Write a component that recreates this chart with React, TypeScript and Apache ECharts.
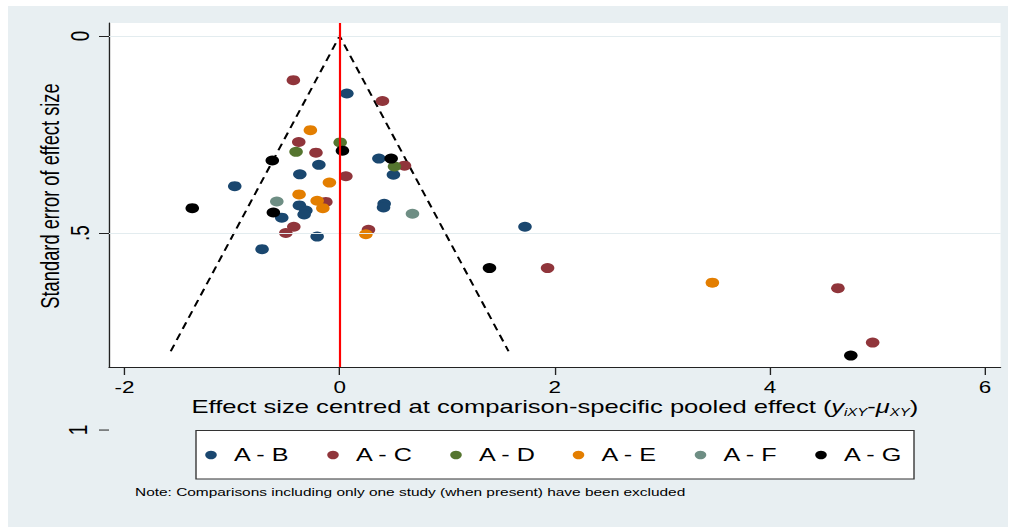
import { useEffect, useRef } from "react";
import * as echarts from "echarts";

// ---- data ----
const comparisons = ["A - B", "A - C", "A - D", "A - E", "A - F", "A - G"];
const colors = ["#1a476f", "#90353b", "#55752f", "#e37e00", "#6e8e84", "#000000"];

const seriesAB = [[0.067, 0.146], [-0.193, 0.327], [-0.37, 0.351], [0.365, 0.311], [0.5, 0.352], [-0.975, 0.381], [-0.374, 0.43], [-0.314, 0.443], [-0.33, 0.453], [-0.538, 0.461], [0.414, 0.426], [0.408, 0.435], [-0.209, 0.509], [-0.721, 0.541], [1.723, 0.484]];
const seriesAC = [[-0.43, 0.112], [0.398, 0.165], [-0.38, 0.269], [-0.22, 0.296], [0.058, 0.356], [0.603, 0.329], [-0.128, 0.421], [-0.426, 0.484], [-0.5, 0.5], [0.268, 0.492], [1.933, 0.589], [4.632, 0.64], [4.955, 0.778]];
const seriesAD = [[0.005, 0.27], [-0.405, 0.294], [0.51, 0.331]];
const seriesAE = [[-0.272, 0.239], [-0.095, 0.372], [-0.377, 0.402], [-0.209, 0.418], [-0.156, 0.437], [0.244, 0.503], [3.465, 0.626]];
const seriesAF = [[-0.584, 0.42], [0.677, 0.451]];
const seriesAG = [[-0.626, 0.316], [0.026, 0.291], [0.479, 0.311], [-1.37, 0.437], [-0.616, 0.448], [1.393, 0.589], [4.752, 0.811]];
const allSeries = [seriesAB, seriesAC, seriesAD, seriesAE, seriesAF, seriesAG];

const funnelLines = [[-1.57, 0.8], [0, 0], [1.57, 0.8]];
const pooledEffect = 0;

const xTickValues = [-2, 0, 2, 4, 6];
const yTickValues = [0, 0.5];
const yTickLabels: Record<string, string> = { "0": "0", "0.5": ".5", "1": "1" };
const yExtraTick = 1;
const xRange = [-2.144, 6.144];
const yRange = [-0.033, 0.84];

const yTitle = "Standard error of effect size";
const xTitleMain = "Effect size centred at comparison-specific pooled effect (";
const noteText = "Note: Comparisons including only one study (when present) have been excluded";

// ---- layout ----
const S = 1.36; // horizontal stretch of the reference picture
const FULL_W = 1014;
const FULL_H = 527;
const W = FULL_W / S;
const X = (px: number) => px / S;
const FONT = "Liberation Sans, Arial, Helvetica, sans-serif";
const BG = "#e8eff2";
const AXIS = "#222";
const legendMarkerCenters = [211, 333, 456, 578.5, 700.5, 821];
const LEG_ICON = 8.5;

export default function App() {
  const ref = useRef<HTMLDivElement>(null);

  useEffect(() => {
    if (!ref.current) return;
    const chart = echarts.init(ref.current, undefined, { renderer: "svg" });

    const option: any = {
      animation: false,
      backgroundColor: "transparent",
      textStyle: { fontFamily: FONT },
      grid: {
        left: X(109),
        right: W - X(1000),
        top: 23,
        bottom: FULL_H - 367,
        show: true,
        backgroundColor: "#ffffff",
        borderWidth: 0,
      },
      xAxis: {
        type: "value",
        min: xRange[0],
        max: xRange[1],
        position: "bottom",
        axisLine: { show: true, onZero: false, lineStyle: { color: AXIS, width: 1 } },
        axisTick: { show: true, length: 8, customValues: xTickValues, lineStyle: { color: AXIS } },
        axisLabel: {
          customValues: xTickValues,
          fontSize: 16.5,
          color: "#000",
          margin: 12,
          fontFamily: FONT,
        },
        splitLine: { show: false },
      },
      yAxis: {
        type: "value",
        inverse: true,
        min: yRange[0],
        max: yRange[1],
        position: "left",
        axisLine: { show: true, onZero: false, lineStyle: { color: AXIS, width: 1 } },
        axisTick: { show: true, length: X(10), customValues: yTickValues, lineStyle: { color: AXIS } },
        axisLabel: {
          customValues: yTickValues,
          rotate: 90,
          fontSize: 19,
          color: "#000",
          margin: 12,
          fontFamily: FONT,
          formatter: (v: number) => yTickLabels[String(v)] ?? String(v),
        },
        splitLine: { show: false },
      },
      legend: comparisons.map((name, i) => ({
        data: [name],
        left: X(legendMarkerCenters[i]) - LEG_ICON / 2,
        top: 445.5,
        orient: "horizontal",
        icon: "circle",
        itemWidth: LEG_ICON,
        itemHeight: LEG_ICON,
        padding: 0,
        selectedMode: false,
        z: 5,
        textStyle: { fontSize: 18.5, color: "#000", fontFamily: FONT, padding: [0, 0, 0, 7.6] },
      })),
      series: [
        {
          type: "line",
          name: "funnel",
          data: funnelLines,
          symbol: "none",
          silent: true,
          z: 2,
          lineStyle: { color: "#000", width: 1.6, type: [7, 5] },
          markLine: {
            silent: true,
            symbol: "none",
            label: { show: false },
            data: [
              { yAxis: yTickValues[0], lineStyle: { color: "#e3ecef", width: 1, type: "solid" } },
              { yAxis: yTickValues[1], lineStyle: { color: "#e3ecef", width: 1, type: "solid" } },
              { xAxis: pooledEffect, lineStyle: { color: "#ff0000", width: 1.6, type: "solid" } },
            ],
          },
        },
        ...comparisons.map((name, i) => ({
          type: "scatter",
          name,
          data: allSeries[i],
          symbol: "circle",
          symbolSize: 10,
          z: 3,
          itemStyle: { color: colors[i], opacity: 1 },
        })),
      ],
    };

    chart.setOption(option);

    const y1 = chart.convertToPixel({ yAxisIndex: 0 }, yExtraTick) as number;

    chart.setOption({
      graphic: {
        elements: [
          {
            type: "rect",
            z: 1,
            shape: { x: X(196), y: 430.5, width: X(914) - X(196), height: 48.5 },
            style: { fill: "#ffffff", stroke: "#333", lineWidth: 1 },
          },
          {
            type: "text",
            x: X(50.5),
            y: 196,
            rotation: Math.PI / 2,
            style: {
              text: yTitle,
              fontSize: 18.3,
              fontFamily: FONT,
              fill: "#000",
              align: "center",
              verticalAlign: "middle",
            },
          },
          {
            type: "text",
            x: X(555),
            y: 407,
            style: {
              text: xTitleMain + "{i|y}{s|iXY}-{i|μ}{s|XY})",
              fontSize: 18.8,
              fontFamily: FONT,
              fill: "#000",
              align: "center",
              verticalAlign: "middle",
              rich: {
                i: { fontSize: 18.8, fontStyle: "italic", fontFamily: FONT, fill: "#000" },
                s: { fontSize: 11, fontStyle: "italic", fontFamily: FONT, fill: "#000", padding: [10, 0, 0, 0] },
              },
            },
          },
          {
            type: "text",
            x: X(135),
            y: 492,
            style: {
              text: noteText,
              fontSize: 11.35,
              fontFamily: FONT,
              fill: "#000",
              align: "left",
              verticalAlign: "middle",
            },
          },
          {
            type: "line",
            shape: { x1: X(99), y1: y1, x2: X(109), y2: y1 },
            style: { stroke: AXIS, lineWidth: 1 },
          },
          {
            type: "text",
            x: X(78),
            y: y1,
            rotation: Math.PI / 2,
            style: {
              text: yTickLabels[String(yExtraTick)],
              fontSize: 19,
              fontFamily: FONT,
              fill: "#000",
              align: "center",
              verticalAlign: "middle",
            },
          },
        ],
      },
    });

    return () => chart.dispose();
  }, []);

  return (
    <>
      <div
        style={{
          position: "absolute",
          left: 8,
          top: 6,
          width: 1000,
          height: FULL_H - 6,
          background: BG,
        }}
      />
      <div
        ref={ref}
        style={{
          position: "absolute",
          left: 0,
          top: 0,
          width: W + "px",
          height: FULL_H + "px",
          transform: `scaleX(${S})`,
          transformOrigin: "0 0",
        }}
      />
    </>
  );
}
